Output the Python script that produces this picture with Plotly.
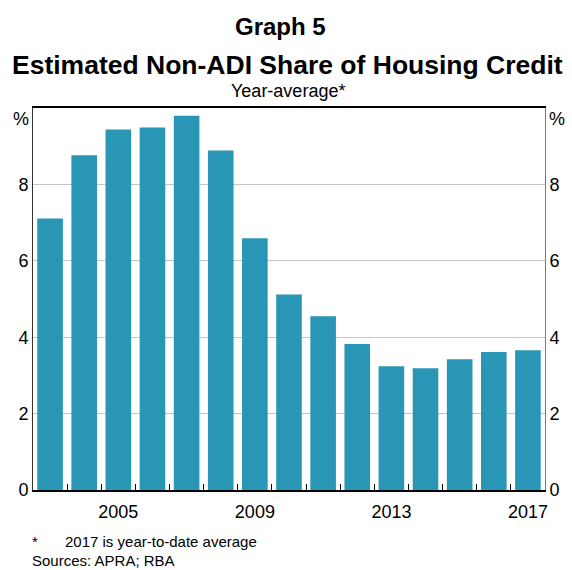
import plotly.graph_objects as go

# Estimated non-ADI share of housing credit, year-average (%)
years = [str(y) for y in range(2003, 2018)]
share = [7.11, 8.76, 9.44, 9.49, 9.80, 8.89, 6.59, 5.12, 4.55,
         3.82, 3.24, 3.19, 3.42, 3.61, 3.66]
x_labels = {"2005": "2005", "2009": "2009", "2013": "2013", "2017": "2017"}
y_ticks = [0, 2, 4, 6, 8, 10]
y_text = ["0", "2", "4", "6", "8", ""]
unit = "%"

FONT = "Liberation Sans, Arial, sans-serif"
BAR = "#2896b4"
TICK_SIZE = 18

# plot area in pixels, used to place the text blocks around it
W, H = 572, 570
L, R, T, B = 33, 21, 108, 80
pw, ph = W - L - R, H - T - B


def px(x):
    return (x - L) / pw


def py(y):
    return (H - B - y) / ph


fig = go.Figure()
fig.add_trace(go.Bar(x=years, y=share, marker=dict(color=BAR, line=dict(width=0)),
                     showlegend=False, hoverinfo="x+y"))
# invisible trace that carries the right-hand axis
fig.add_trace(go.Scatter(x=[years[0]], y=[0], yaxis="y2", mode="markers",
                         marker=dict(opacity=0), showlegend=False, hoverinfo="skip"))

fig.update_layout(
    width=W, height=H,
    margin=dict(l=L, r=R, t=T, b=B),
    paper_bgcolor="white", plot_bgcolor="white",
    bargap=0.25,
    font=dict(family=FONT, color="black"),
    xaxis=dict(
        type="category", categoryorder="array", categoryarray=years,
        tickmode="array", tickvals=years,
        ticktext=[x_labels.get(y, "") for y in years],
        tickson="boundaries", ticks="inside", ticklen=6, tickcolor="black",
        tickangle=0, tickfont=dict(size=TICK_SIZE, family=FONT), showgrid=False,
        ticklabelstandoff=5,
        showline=True, linecolor="black", linewidth=1.5, mirror=True,
        range=[-0.5, len(years) - 0.5], fixedrange=True,
    ),
    yaxis=dict(
        range=[0, 10], tickmode="array", tickvals=y_ticks, ticktext=y_text,
        ticks="", tickfont=dict(size=TICK_SIZE, family=FONT),
        showgrid=True, gridcolor="#c4c4c4", gridwidth=1, zeroline=False,
        showline=True, linecolor="#333333", linewidth=1, mirror=False,
        fixedrange=True,
    ),
    yaxis2=dict(
        overlaying="y", side="right", range=[0, 10],
        tickmode="array", tickvals=y_ticks, ticktext=y_text,
        ticks="", tickfont=dict(size=TICK_SIZE, family=FONT),
        showgrid=False, zeroline=False, fixedrange=True,
        showline=True, linecolor="#7a7a7a", linewidth=1,
    ),
)

texts = [
    dict(text="<b>Graph 5</b>", x=px(283), y=py(27), size=24, xa="center"),
    dict(text="<b>Estimated Non-ADI Share of Housing Credit</b>", x=px(290), y=py(65),
         size=26.5, xa="center"),
    dict(text="Year-average*", x=px(291), y=py(91), size=18, xa="center"),
    dict(text=unit, x=px(31), y=py(119), size=TICK_SIZE, xa="right"),
    dict(text=unit, x=px(553), y=py(119), size=TICK_SIZE, xa="left"),
    dict(text="*", x=px(30), y=py(541), size=15, xa="left"),
    dict(text="2017 is year-to-date average", x=px(63), y=py(541), size=15, xa="left"),
    dict(text="Sources: APRA; RBA", x=px(30), y=py(560), size=15, xa="left"),
]
for t in texts:
    fig.add_annotation(text=t["text"], x=t["x"], y=t["y"], xref="paper", yref="paper",
                       xanchor=t["xa"], yanchor="middle", showarrow=False,
                       font=dict(size=t["size"], family=FONT, color="black"))

fig.write_html("out.html")
